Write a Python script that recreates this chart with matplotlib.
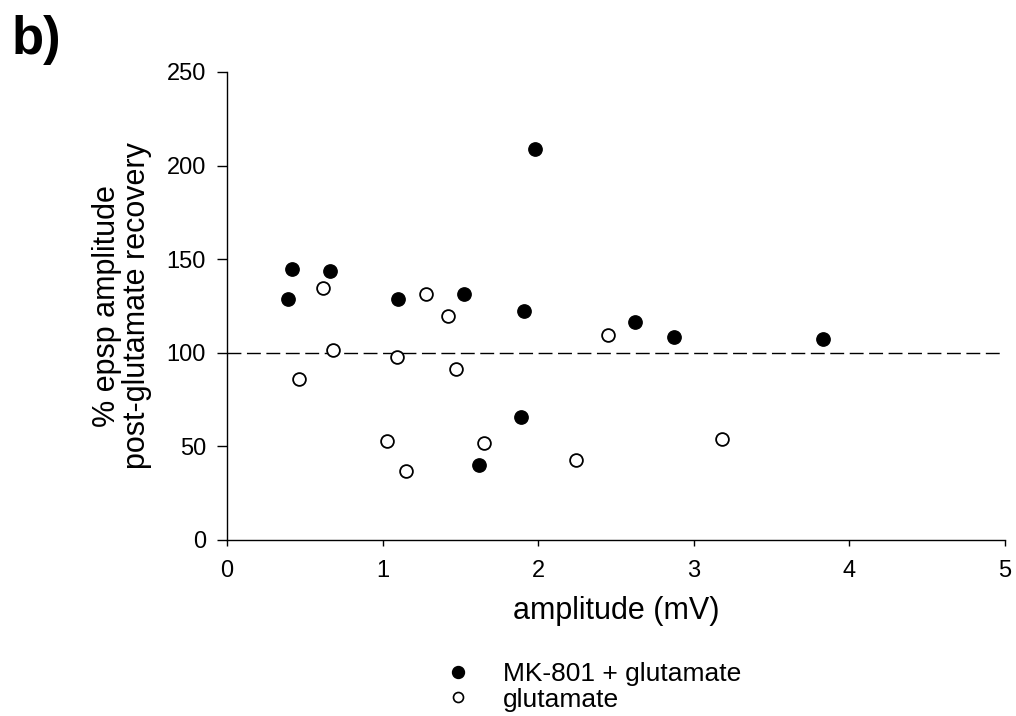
import matplotlib
matplotlib.use("Agg")
import matplotlib.pyplot as plt
from matplotlib.lines import Line2D

plt.rcParams['font.family'] = ['Liberation Sans', 'DejaVu Sans']

# MK-801 + glutamate (filled)
mk_x = [0.39, 0.42, 0.66, 1.10, 1.52, 1.98, 1.91, 1.89, 1.62, 2.87, 2.62, 3.83]
mk_y = [129, 144.5, 143.5, 129, 131.5, 209, 122.5, 65.5, 40, 108.5, 116.5, 107.5]
# glutamate (open)
glu_x = [0.62, 0.68, 0.46, 1.28, 1.42, 1.09, 1.47, 1.03, 1.65, 1.15, 2.24, 2.45, 3.18]
glu_y = [134.5, 101.5, 86, 131.5, 119.5, 97.5, 91.5, 53, 52, 37, 43, 109.5, 54]

legend_labels = ["MK-801 + glutamate", "glutamate"]
x_ticks = [0, 1, 2, 3, 4, 5]
y_ticks = [0, 50, 100, 150, 200, 250]
ref_level = 100

fig = plt.figure(figsize=(10.16, 7.16), dpi=100)
ax = fig.add_axes([227/1016, 1 - 540/716, (1005-227)/1016, (540-72)/716])

ax.plot([x_ticks[0], x_ticks[-1]], [ref_level, ref_level], color='black',
        lw=1.0, dashes=(10, 4), zorder=1)
ax.plot(mk_x, mk_y, 'o', ms=9.6, mfc='black', mec='black', mew=1.0, zorder=3,
        clip_on=False)
ax.plot(glu_x, glu_y, 'o', ms=9.2, mfc='white', mec='black', mew=1.3, zorder=3,
        clip_on=False)

ax.set_xlim(0, 5)
ax.set_ylim(0, 250)
ax.set_xticks(x_ticks)
ax.set_yticks(y_ticks)
ax.spines['top'].set_visible(False)
ax.spines['right'].set_visible(False)
for s in ['left', 'bottom']:
    ax.spines[s].set_linewidth(1.0)
ax.tick_params(axis='y', direction='out', length=7.2, width=1.0, labelsize=17, pad=8)
ax.tick_params(axis='x', direction='out', length=4.5, width=1.0, labelsize=17, pad=10)

ax.set_xlabel("amplitude (mV)", fontsize=22, va='center')
ax.xaxis.set_label_coords(0.5, (540 - 611) / 468)
ax.set_ylabel("% epsp amplitude\npost-glutamate recovery", fontsize=22,
              linespacing=1.03, va='center')
ax.yaxis.set_label_coords((122 - 227) / 778, 0.5)

fig.text(12/1016, 1 - 40/716, "b)", fontsize=38, fontweight='bold',
         va='center', ha='left')

handles = [
    Line2D([], [], ls='none', marker='o', ms=8.6, mfc='black', mec='black'),
    Line2D([], [], ls='none', marker='o', ms=7.2, mfc='white', mec='black', mew=1.2),
]
fig.legend(handles, legend_labels, loc='center left',
           bbox_to_anchor=(445/1016, 1 - 687/716), frameon=False, fontsize=19,
           handletextpad=1.2, labelspacing=0.05, handlelength=1.0, borderpad=0,
           borderaxespad=0)

fig.savefig("out.png", dpi=100)
